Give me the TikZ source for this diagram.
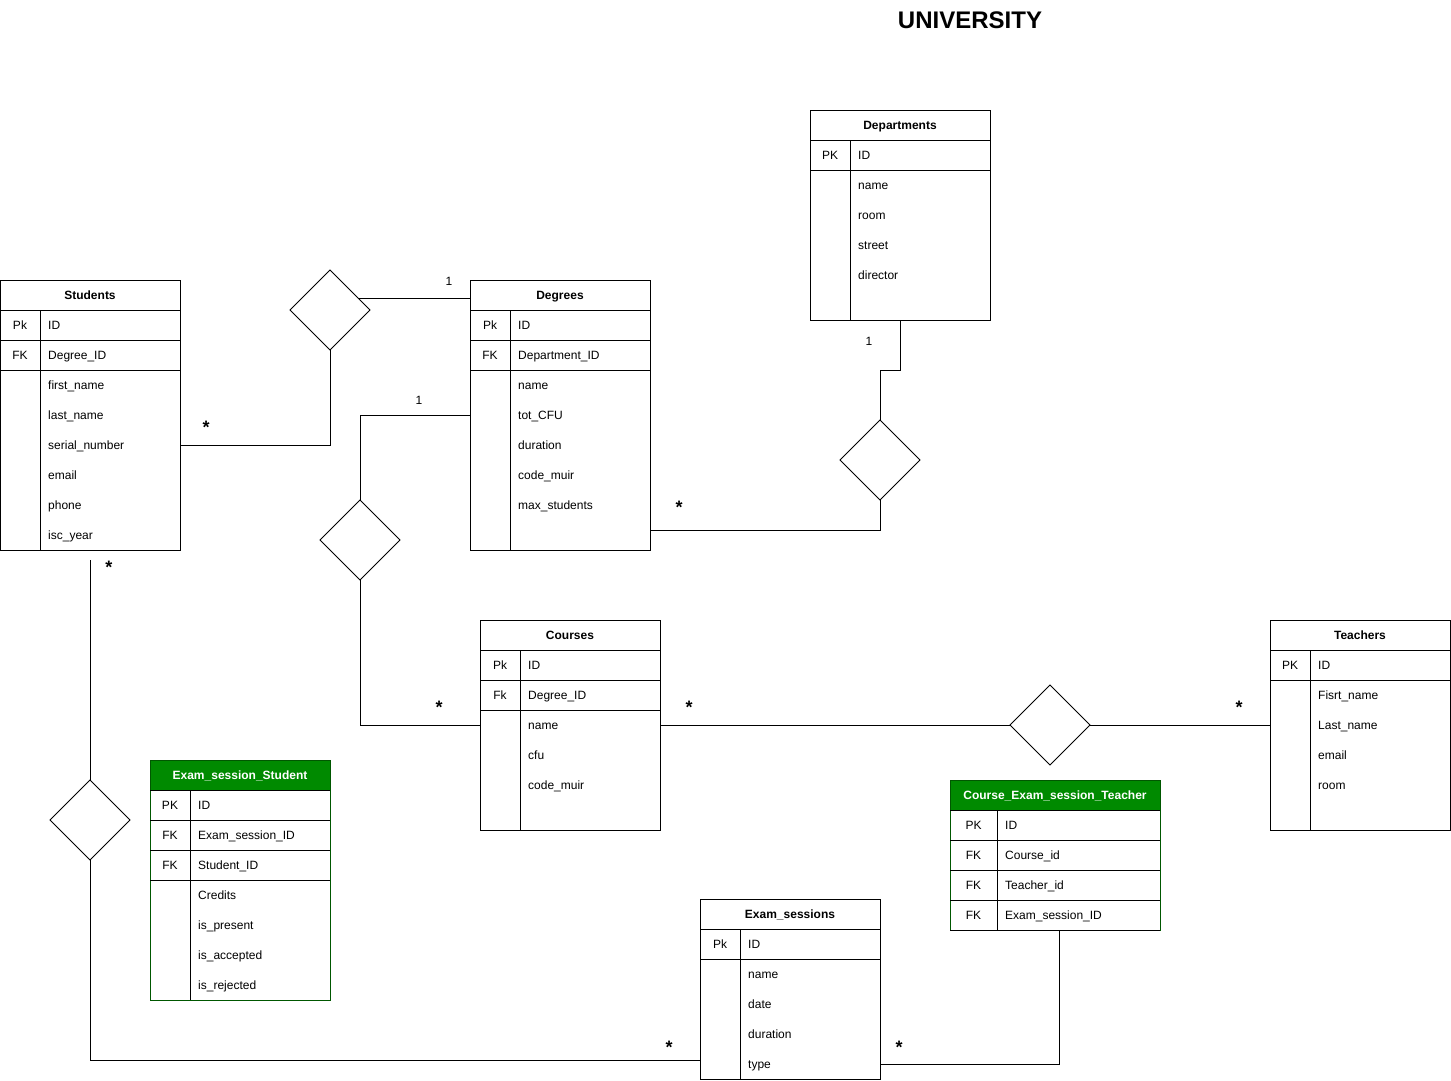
\documentclass[tikz,border=0pt]{standalone}
\usepackage{fontspec}
\setmainfont{Liberation Sans}
\usetikzlibrary{calc,positioning,shapes.geometric}
\definecolor{esgreen}{HTML}{008A00}
\definecolor{esgreenline}{HTML}{005700}

% entity table: name, left, top, width, height, key column x, title, keys (K/field), fields
\newcommand{\ertable}[9]{%
  \path[hdrfill] (#2,#3) rectangle ++(#4,30);
  \node[tbl, minimum width=#4pt, minimum height=#5pt, anchor=north west] (#1) at (#2,#3) {};
  \node[hdr] (#1-title) at ({#2+#4/2},#3+15) {#7};
  \draw[tline] (#2,#3+30) -- ++(#4,0);
  \draw[tline] (#6,#3+30) -- (#6,#3+#5);
  \foreach \k/\f [count=\i] in {#8}{
    \node[keytxt] (#1-k\i) at ({(#2+#6)/2},#3+15+30*\i) {\k};
    \node[fld] (#1-f\i) at (#6+8,#3+15+30*\i) {\f};
    \draw[tline] (#2,#3+30+30*\i) -- ++(#4,0);
    \xdef\nkeys{\i}
  }
  \if\relax\detokenize{#9}\relax\else
  \foreach \a [count=\j] in {#9}{
    \node[fld] (#1-a\j) at (#6+8,#3+30*\nkeys+15+30*\j) {\a};
  }
  \fi
}

\begin{document}
\begin{tikzpicture}[x=1pt, y=-1pt,
  txt/.style={font=\fontsize{12}{14}\selectfont, inner sep=0pt, text height=8.6pt, text depth=0pt},
  tbl/.style={draw=black, line width=1pt, inner sep=0pt, outer sep=0pt},
  tline/.style={draw=black, line width=1pt},
  hdrfill/.style={},
  hdr/.style={txt, font=\fontsize{12}{14}\selectfont\bfseries},
  fld/.style={txt, anchor=west},
  keytxt/.style={txt},
  rel/.style={diamond, draw, line width=1pt, minimum width=80pt, minimum height=80pt,
              inner sep=0pt, outer sep=0pt},
  conn/.style={draw, line width=1pt},
  card/.style={txt},
  many/.style={font=\fontsize{18}{20}\selectfont\bfseries, inner sep=0pt}
]
\useasboundingbox (0,0) rectangle (1451,1080);
\node[font=\fontsize{24}{28}\selectfont\bfseries] (title) at (970,20) {UNIVERSITY};

% tables
\ertable{stu}{0}{280}{180}{270}{40}{Students}{Pk/ID,FK/Degree\_ID}{first\_name,last\_name,serial\_number,email,phone,isc\_year}
\ertable{deg}{470}{280}{180}{270}{510}{Degrees}{Pk/ID,FK/Department\_ID}{name,tot\_CFU,duration,code\_muir,max\_students}
\ertable{dep}{810}{110}{180}{210}{850}{Departments}{PK/ID}{name,room,street,director}
\ertable{crs}{480}{620}{180}{210}{520}{Courses}{Pk/ID,Fk/Degree\_ID}{name,cfu,code\_muir}
\ertable{tch}{1270}{620}{180}{210}{1310}{Teachers}{PK/ID}{Fisrt\_name,Last\_name,email,room}
\ertable{es}{700}{899}{180}{180}{740}{Exam\_sessions}{Pk/ID}{name,date,duration,type}
\begin{scope}[hdrfill/.style={fill=esgreen}, tbl/.append style={draw=esgreenline},
              hdr/.append style={text=white}]
\ertable{ess}{150}{760}{180}{240}{190}{Exam\_session\_Student}{PK/ID,FK/Exam\_session\_ID,FK/Student\_ID}{Credits,is\_present,is\_accepted,is\_rejected}
\ertable{cest}{950}{780}{210}{150}{997}{Course\_Exam\_session\_Teacher}{PK/ID,FK/Course\_id,FK/Teacher\_id,FK/Exam\_session\_ID}{}
\end{scope}

% relationships
\node[rel] (d1) at (330,310) {};
\node[rel] (d2) at (360,540) {};
\node[rel] (d3) at (880,460) {};
\node[rel] (d4) at (1050,725) {};
\node[rel] (d5) at (90,820) {};

\coordinate (d1-r) at ($(d1.north)!0.7!(d1.east)$);
\draw[conn] (d1.south) |- (stu.east |- stu-a3);
\draw[conn] (d1-r) -- (d1-r -| deg.west);
\draw[conn] (d2.north) |- (deg.west |- deg-a2);
\draw[conn] (d2.south) |- (crs.west |- crs-a1);
\draw[conn] (dep.south) -- ++(0,50) -| (d3.north);
\draw[conn] (d3.south) |- ($(deg.south east)+(0,-20)$);
\draw[conn] (crs.east |- crs-a1) -- (d4.west);
\draw[conn] (d4.east) -- (tch.west |- d4.east);
\draw[conn] (d5.north) -- ($(stu.south)+(0,10)$);
\draw[conn] (d5.south) |- ($(es.south west)+(0,-19)$);
\draw[conn] (es.east |- es-a4) -| ($(cest.south)+(4,0)$);

% cardinalities
\node[card] (n1) at (449,281) {1};
\node[card] (n2) at (419,400) {1};
\node[card] (n3) at (869,341) {1};
\node[many] (m1) at (206,427) {*};
\node[many] (m2) at (109,567) {*};
\node[many] (m3) at (679,507) {*};
\node[many] (m4) at (439,707) {*};
\node[many] (m5) at (689,707) {*};
\node[many] (m6) at (1239,707) {*};
\node[many] (m7) at (669,1047) {*};
\node[many] (m8) at (899,1047) {*};
\end{tikzpicture}
\end{document}
